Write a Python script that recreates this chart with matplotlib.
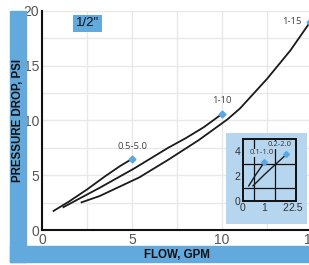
import matplotlib
matplotlib.use("Agg")
import matplotlib.pyplot as plt
from matplotlib.patches import Rectangle
from matplotlib import font_manager

# pressure drop curves (flow gpm, psi)
flow_05 = [0.6, 1.5, 2.5, 3.5, 4.3, 5.0]
psi_05 = [1.7, 2.6, 3.7, 4.9, 5.8, 6.5]

flow_10 = [1.15, 2.0, 3.2, 5.1, 7.0, 8.0, 9.0, 10.0]
psi_10 = [2.05, 2.8, 3.85, 5.6, 7.5, 8.4, 9.4, 10.6]

flow_15 = [2.15, 3.2, 5.4, 7.0, 8.7, 10.3, 11.0, 12.5, 13.8, 14.9]
psi_15 = [2.5, 3.1, 4.8, 6.4, 8.2, 10.1, 11.1, 13.8, 16.4, 19.0]

labels_main = ["0.5-5.0", "1-10", "1-15"]

# inset curves
flow_01 = [0.27, 0.6, 1.0]
psi_01 = [1.2, 2.1, 3.1]
flow_02 = [0.47, 1.0, 1.5, 2.05]
psi_02 = [1.2, 2.1, 2.9, 3.75]
labels_inset = ["0.1-1.0", "0.2-2.0"]

main_xticks = [0, 5, 10, 15]
main_yticks = [0, 5, 10, 15, 20]
inset_xticks = [0, 1, 2, 2.5]
inset_xlabels = ["0", "1", "2", "2.5"]
inset_yticks = [0, 2, 4]

BLUE = "#62a9de"
LIGHT = "#b6d6ef"
MARK = "#5aa8e2"

names = {f.name for f in font_manager.fontManager.ttflist}
narrow = "Liberation Sans Narrow" if "Liberation Sans Narrow" in names else "Liberation Sans"

fig = plt.figure(figsize=(3.09, 2.65), dpi=100)

# blue L frame
fig.patches.append(Rectangle((10 / 309, 3 / 265), 16 / 309, 251 / 265,
                             transform=fig.transFigure, color=BLUE, zorder=0))
fig.patches.append(Rectangle((10 / 309, 3 / 265), 299 / 309, 16 / 265,
                             transform=fig.transFigure, color=BLUE, zorder=0))

ax = fig.add_axes([42 / 309, 35 / 265, 270 / 309, 219 / 265])
ax.set_xlim(0, 15)
ax.set_ylim(0, 20)
ax.set_xticks(main_xticks)
ax.set_yticks(main_yticks)
ax.set_xticks([2.5, 7.5, 12.5], minor=True)
ax.set_yticks([2.5, 7.5, 12.5, 17.5], minor=True)
ax.grid(True, which="both", color="#e8e8e8", lw=1)
ax.set_axisbelow(True)
for s in ["top", "right"]:
    ax.spines[s].set_visible(False)
for s in ["left", "bottom"]:
    ax.spines[s].set_linewidth(1.5)
    ax.spines[s].set_color("#111111")
ax.tick_params(which="both", length=0, pad=2, labelsize=10, labelcolor="#555555")
for t in ax.get_xticklabels() + ax.get_yticklabels():
    t.set_family(narrow)

for fx, py, lab, off in [(flow_05, psi_05, labels_main[0], (0, 9)),
                         (flow_10, psi_10, labels_main[1], (0, 10)),
                         (flow_15, psi_15, labels_main[2], (-6, 0))]:
    ax.plot(fx, py, color="#1a1a1a", lw=1.3, solid_capstyle="butt", zorder=3)
    ax.plot(fx[-1], py[-1], marker="D", ms=3.5, color=MARK, zorder=4, clip_on=False)
    ax.annotate(lab, (fx[-1], py[-1]), xytext=off, textcoords="offset points",
                ha="center" if off[0] == 0 else "right", va="center",
                fontsize=6.8, family="Open Sans", color="#444444")

fig.text(87.5 / 309, 1 - 23.5 / 265, '1/2"', ha="center", va="center",
         fontsize=9.5, family="Liberation Sans", color="#111111",
         bbox=dict(facecolor=BLUE, edgecolor="none", boxstyle="square,pad=0.2"))

fig.text(18 / 309, 1 - 120.5 / 265, "PRESSURE DROP, PSI", rotation=90,
         ha="center", va="center", fontsize=8.3, fontweight="bold",
         family="Liberation Sans", color="#111111")
fig.text(176.5 / 309, 1 - 254.5 / 265, "FLOW, GPM", ha="center", va="center",
         fontsize=8.3, fontweight="bold", family="Liberation Sans", color="#111111")

# inset: light blue panel behind a small axes
panel = fig.add_axes([226 / 309, 41 / 265, 81 / 309, 91 / 265])
panel.set_facecolor(LIGHT)
panel.set_xticks([])
panel.set_yticks([])
for s in panel.spines.values():
    s.set_visible(False)
panel.set_zorder(5)

ins = fig.add_axes([243 / 309, 64.3 / 265, 53 / 309, 61.7 / 265])
ins.set_zorder(6)
ins.set_facecolor(LIGHT)
ins.set_xlim(0, 2.5)
ins.set_ylim(0, 5)
ins.set_xticks(inset_xticks)
ins.set_xticklabels(inset_xlabels)
ins.set_yticks(inset_yticks)
ins.set_yticklabels([str(v) for v in inset_yticks])
ins.set_xticks([0.5, 1, 1.5, 2], minor=True)
ins.set_yticks([1, 2, 3, 4], minor=True)
ins.grid(True, which="minor", color="#111111", lw=0.9)
ins.grid(False, which="major")
for s in ins.spines.values():
    s.set_linewidth(1.4)
    s.set_color("#111111")
ins.tick_params(which="both", length=0, pad=2, labelsize=7.5, labelcolor="#333333")
for t in ins.get_xticklabels() + ins.get_yticklabels():
    t.set_family(narrow)

for fx, py, lab, off in [(flow_01, psi_01, labels_inset[0], (-2, 7)),
                         (flow_02, psi_02, labels_inset[1], (-5, 7))]:
    ins.plot(fx, py, color="#1a1a1a", lw=1.0, zorder=3)
    ins.plot(fx[-1], py[-1], marker="D", ms=3, color=MARK, zorder=4)
    ins.annotate(lab, (fx[-1], py[-1]), xytext=off, textcoords="offset points",
                 ha="center", va="center", fontsize=5.5, family="Open Sans",
                 color="#333333", zorder=5,
                 bbox=dict(facecolor=LIGHT, edgecolor="none", pad=0.3))

fig.savefig("out.png", dpi=100)
